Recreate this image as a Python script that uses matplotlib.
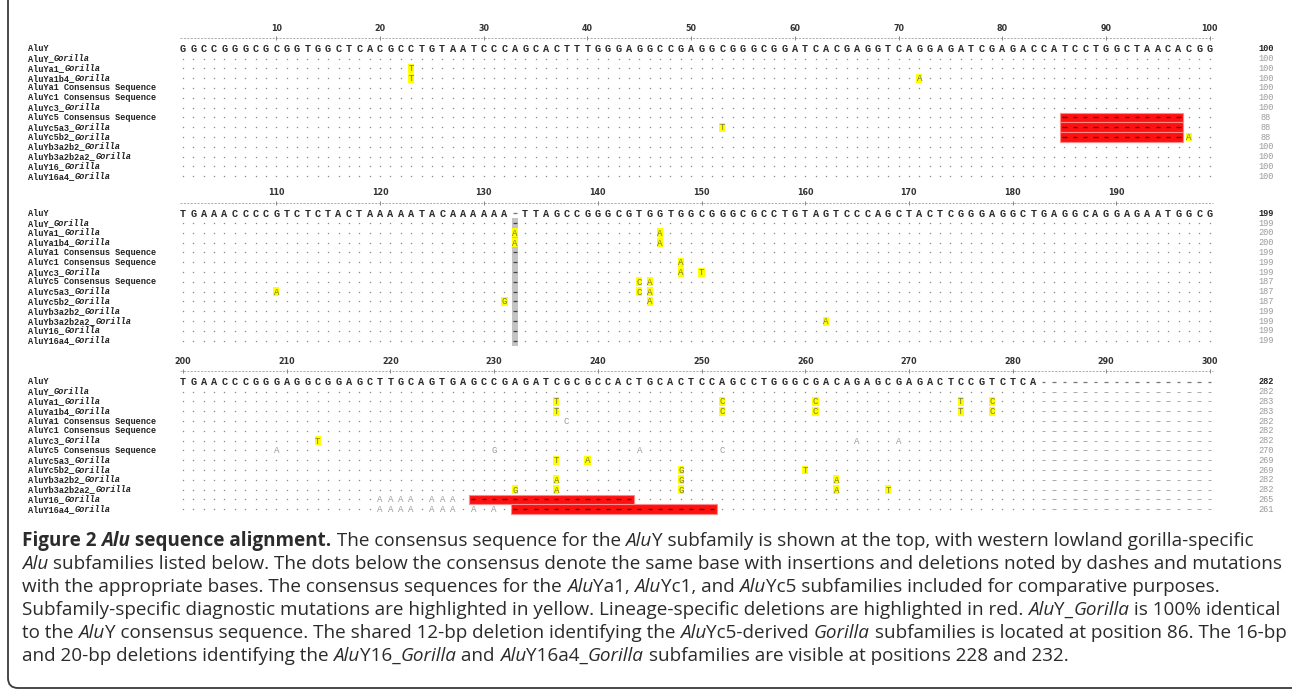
import matplotlib
matplotlib.use("Agg")
import matplotlib.pyplot as plt
from matplotlib.patches import Rectangle, PathPatch
from matplotlib.path import Path
from matplotlib.transforms import IdentityTransform, offset_copy
from matplotlib.font_manager import FontProperties

W, H, DPI = 1292, 693, 100

# ---------------- data ----------------
row_names = ["AluY", "AluY_Gorilla", "AluYa1_Gorilla", "AluYa1b4_Gorilla",
             "AluYa1 Consensus Sequence", "AluYc1 Consensus Sequence", "AluYc3_Gorilla",
             "AluYc5 Consensus Sequence", "AluYc5a3_Gorilla", "AluYc5b2_Gorilla",
             "AluYb3a2b2_Gorilla", "AluYb3a2b2a2_Gorilla", "AluY16_Gorilla", "AluY16a4_Gorilla"]

consensus_1 = "".join(["GGCCGGGCGC", "GGTGGCTCAC", "GCCTGTAATC", "CCAGCACTTT", "GGGAGGCCGA",
                        "GGCGGGCGGA", "TCACGAGGTC", "AGGAGATCGA", "GACCATCCTG", "GCTAACACGG"])
consensus_2 = "".join(["TGAAACCCCG", "TCTCTACTAA", "AAATACAAAA", "AA-TTAGCCG", "GGCGTGGTGG",
                        "CGGGCGCCTG", "TAGTCCCAGC", "TACTCGGGAG", "GCTGAGGCAG", "GAGAATGGCG"])
consensus_3 = "".join(["TGAACCCGGG", "AGGCGGAGCT", "TGCAGTGAGC", "CGAGATCGCG", "CCACTGCACT",
                        "CCAGCCTGGG", "CGACAGAGCG", "AGACTCCGTC", "TCA"]) + "-" * 17

# ruler labels and the column (0-based within block) they sit above
ticks_1 = [10, 20, 30, 40, 50, 60, 70, 80, 90, 100]
tickcol_1 = [9, 19, 29, 39, 49, 59, 69, 79, 89, 99]
ticks_2 = [110, 120, 130, 140, 150, 160, 170, 180, 190]
tickcol_2 = [9, 19, 29, 40, 50, 60, 70, 80, 90]
ticks_3 = [200, 210, 220, 230, 240, 250, 260, 270, 280, 290, 300]
tickcol_3 = [0, 10, 20, 30, 40, 50, 60, 70, 80, 89, 99]

# lengths printed at right of each row
lengths_1 = [100, 100, 100, 100, 100, 100, 100, 88, 88, 88, 100, 100, 100, 100]
lengths_2 = [199, 199, 200, 200, 199, 199, 199, 187, 187, 187, 199, 199, 199, 199]
lengths_3 = [282, 282, 283, 283, 282, 282, 282, 270, 269, 269, 282, 282, 265, 261]

# (row, column, base) -- yellow highlighted diagnostic mutations
yellow_1 = [(2, 22, "T"), (3, 22, "T"), (3, 71, "A"), (8, 52, "T"), (9, 97, "A")]
yellow_2 = [(2, 32, "A"), (3, 32, "A"), (2, 46, "A"), (3, 46, "A"), (5, 48, "A"), (6, 48, "A"),
            (6, 50, "T"), (7, 44, "C"), (7, 45, "A"), (8, 9, "A"), (8, 44, "C"), (8, 45, "A"),
            (9, 31, "G"), (9, 45, "A"), (11, 62, "A")]
yellow_3 = [(2, 36, "T"), (2, 52, "C"), (2, 61, "C"), (2, 75, "T"), (2, 78, "C"),
            (3, 36, "T"), (3, 52, "C"), (3, 61, "C"), (3, 75, "T"), (3, 78, "C"),
            (6, 13, "T"), (8, 36, "T"), (8, 39, "A"), (9, 48, "G"), (9, 60, "T"),
            (10, 36, "A"), (10, 48, "G"), (10, 63, "A"),
            (11, 32, "G"), (11, 36, "A"), (11, 48, "G"), (11, 63, "A"), (11, 68, "T")]
# (row, column, base) -- other (grey, not highlighted) differences
grey_1 = []
grey_2 = []
grey_3 = [(4, 37, "C"), (6, 65, "A"), (6, 69, "A"), (7, 9, "A"), (7, 30, "G"), (7, 44, "A"),
          (7, 52, "C"),
          (12, 19, "A"), (12, 20, "A"), (12, 21, "A"), (12, 22, "A"), (12, 24, "A"),
          (12, 25, "A"), (12, 26, "A"),
          (13, 19, "A"), (13, 20, "A"), (13, 21, "A"), (13, 22, "A"), (13, 24, "A"),
          (13, 25, "A"), (13, 26, "A"), (13, 28, "A"), (13, 30, "A")]
# (row, first column, last column) -- lineage-specific deletions (red)
red_1 = [(7, 85, 96), (8, 85, 96), (9, 85, 96)]
red_2 = []
red_3 = [(12, 28, 43), (13, 32, 51)]
# insertion column shown in grey (block 2)
gap_col_2 = 32
gap_rows_2 = [1, 4, 5, 6, 7, 8, 9, 10, 11, 12, 13]

blocks = [
    dict(seq=consensus_1, ticks=ticks_1, tickcol=tickcol_1, lengths=lengths_1,
         yellow=yellow_1, grey=grey_1, red=red_1, gap=None, row0=48.8),
    dict(seq=consensus_2, ticks=ticks_2, tickcol=tickcol_2, lengths=lengths_2,
         yellow=yellow_2, grey=grey_2, red=red_2, gap=(gap_col_2, gap_rows_2), row0=213.3),
    dict(seq=consensus_3, ticks=ticks_3, tickcol=tickcol_3, lengths=lengths_3,
         yellow=yellow_3, grey=grey_3, red=red_3, gap=None, row0=381.8),
]

# ---------------- layout ----------------
COL0 = 183.0      # pixel x of first column
PITCH = 10.37     # pixel per column
RPITCH = 9.8      # pixel per row

fig = plt.figure(figsize=(W / DPI, H / DPI), dpi=DPI)
fig.patch.set_facecolor("white")

f_cons = FontProperties(family="Liberation Mono", weight="bold", size=7.4)
f_mut = FontProperties(family="Liberation Mono", size=6.6)
f_lab = FontProperties(family="Liberation Mono", weight="bold", size=6.2)
f_labi = FontProperties(family="Liberation Mono", weight="bold", style="italic", size=6.2)
f_num = FontProperties(family="Liberation Mono", size=6.2)
f_numb = FontProperties(family="Liberation Mono", weight="bold", size=6.2)
f_tick = FontProperties(family="DejaVu Sans", weight="bold", size=5.8)

for b in blocks:
    top = b["row0"] - 3 * RPITCH
    hgt = 17 * RPITCH
    ax = fig.add_axes([0, (H - top - hgt) / H, 1, hgt / H])
    ax.set_xlim(-COL0 / PITCH, (W - COL0) / PITCH)
    ax.set_ylim(14, -3)
    ax.axis("off")
    seq = b["seq"]
    n = len(seq)

    # ruler
    ax.plot([-0.3, n - 1 + 0.3], [-1.1, -1.1], color="#a0a0a0", lw=0.6,
            linestyle=(0, (2.5, 1.6)), solid_capstyle="butt")
    ax.plot(b["tickcol"], [-1.1] * len(b["tickcol"]), linestyle="none", marker="|",
            markersize=3.5, color="#888888", markeredgewidth=0.7)
    for v, c in zip(b["ticks"], b["tickcol"]):
        ax.text(c, -2.1, str(v), ha="center", va="center", fontproperties=f_tick, color="#333333")

    # row labels
    lab_x = (28 - COL0) / PITCH
    for r, name in enumerate(row_names):
        if "_Gorilla" in name:
            pre = name.split("_Gorilla")[0] + "_"
            ax.text(lab_x, r, pre, ha="left", va="center", fontproperties=f_lab, color="#222222")
            tr = offset_copy(ax.transData, fig=fig, x=len(pre) * 0.6 * 6.2, y=0, units="points")
            ax.text(lab_x, r, "Gorilla", ha="left", va="center", fontproperties=f_labi,
                    color="#222222", transform=tr)
        else:
            ax.text(lab_x, r, name, ha="left", va="center", fontproperties=f_lab, color="#222222")

    # lengths
    num_x = (1266 - COL0) / PITCH
    for r, v in enumerate(b["lengths"]):
        ax.text(num_x, r, str(v), ha="center", va="center",
                fontproperties=f_numb if r == 0 else f_num,
                color="#222222" if r == 0 else "#9a9a9a")

    # consensus row
    for c, ch in enumerate(seq):
        if ch == "-":
            ax.plot([c - 0.17, c + 0.17], [0, 0], color="#777777", lw=0.9,
                    solid_capstyle="butt")
        else:
            ax.text(c, 0.05, ch, ha="center", va="center", fontproperties=f_cons, color="#2a2a2a")

    occupied = set()
    # red deletions
    for (r, c0, c1) in b["red"]:
        ax.add_patch(Rectangle((c0 - 0.4, r - 0.5), c1 - c0 + 0.85, 1.0, facecolor="#ff1010",
                               edgecolor="#ff8a8a", lw=0.8, zorder=2))
        for c in range(c0, c1 + 1):
            ax.plot([c - 0.2, c + 0.2], [r, r], color="#3a0000", lw=0.9, zorder=3,
                    solid_capstyle="butt")
            occupied.add((r, c))

    # grey insertion column
    if b["gap"] is not None:
        gc, grows = b["gap"]
        ax.add_patch(Rectangle((gc - 0.3, 0.5), 0.6, 13.0, facecolor="#c4c4c4",
                               edgecolor="none", zorder=1))
        for r in grows:
            ax.plot([gc - 0.17, gc + 0.17], [r, r], color="#444444", lw=0.9, zorder=3,
                    solid_capstyle="butt")
            occupied.add((r, gc))

    # yellow mutations
    for (r, c, ch) in b["yellow"]:
        ax.add_patch(Rectangle((c - 0.3, r - 0.45), 0.6, 0.9, facecolor="#ffff00",
                               edgecolor="none", zorder=2))
        ax.text(c, r + 0.05, ch, ha="center", va="center", fontproperties=f_mut,
                color="#7a7a40", zorder=3)
        occupied.add((r, c))
    # grey mutations
    for (r, c, ch) in b["grey"]:
        ax.text(c, r + 0.05, ch, ha="center", va="center", fontproperties=f_mut,
                color="#9c9c9c", zorder=3)
        occupied.add((r, c))

    # dots and trailing dashes
    xs, ys = [], []
    for r in range(1, 14):
        for c in range(n):
            if (r, c) in occupied:
                continue
            if seq[c] == "-" and b["gap"] is None:
                ax.plot([c - 0.17, c + 0.17], [r, r], color="#ababab", lw=0.75,
                        solid_capstyle="butt")
            elif seq[c] == "-":
                continue
            else:
                xs.append(c)
                ys.append(r)
    ax.scatter(xs, ys, s=1.1, c="#8c8c8c", marker="o", linewidths=0)

# ---------------- frame ----------------
ov = fig.add_axes([0, 0, 1, 1])
ov.set_xlim(0, W)
ov.set_ylim(H, 0)
ov.axis("off")
verts = [(8, 0), (8, 678), (8, 688), (18, 688), (1292, 688)]
codes = [Path.MOVETO, Path.LINETO, Path.CURVE3, Path.CURVE3, Path.LINETO]
ov.add_patch(PathPatch(Path(verts, codes), facecolor="none", edgecolor="#3a3a3a", lw=1.3))

# ---------------- caption ----------------
cap_lines = [
    [("Figure 2 ", "b"), ("Alu", "bi"), (" sequence alignment.", "b"),
     (" The consensus sequence for the ", "r"), ("Alu", "i"),
     ("Y subfamily is shown at the top, with western lowland gorilla-specific", "r")],
    [("Alu", "i"), (" subfamilies listed below. The dots below the consensus denote the same base "
                    "with insertions and deletions noted by dashes and mutations", "r")],
    [("with the appropriate bases. The consensus sequences for the ", "r"), ("Alu", "i"),
     ("Ya1, ", "r"), ("Alu", "i"), ("Yc1, and ", "r"), ("Alu", "i"),
     ("Yc5 subfamilies included for comparative purposes.", "r")],
    [("Subfamily-specific diagnostic mutations are highlighted in yellow. Lineage-specific "
      "deletions are highlighted in red. ", "r"), ("Alu", "i"), ("Y_", "r"), ("Gorilla", "i"),
     (" is 100% identical", "r")],
    [("to the ", "r"), ("Alu", "i"),
     ("Y consensus sequence. The shared 12-bp deletion identifying the ", "r"), ("Alu", "i"),
     ("Yc5-derived ", "r"), ("Gorilla", "i"),
     (" subfamilies is located at position 86. The 16-bp", "r")],
    [("and 20-bp deletions identifying the ", "r"), ("Alu", "i"), ("Y16_", "r"), ("Gorilla", "i"),
     (" and ", "r"), ("Alu", "i"), ("Y16a4_", "r"), ("Gorilla", "i"),
     (" subfamilies are visible at positions 228 and 232.", "r")],
]

fig.canvas.draw()
rend = fig.canvas.get_renderer()


def fp_for(style, size):
    return FontProperties(family="Open Sans",
                          weight="bold" if "b" in style else "normal",
                          style="italic" if "i" in style else "normal", size=size)


def seg_w(s, fp):
    t1 = fig.text(0, 0, "|" + s + "|", fontproperties=fp, transform=IdentityTransform())
    t2 = fig.text(0, 0, "||", fontproperties=fp, transform=IdentityTransform())
    w = t1.get_window_extent(rend).width - t2.get_window_extent(rend).width
    t1.remove()
    t2.remove()
    return w


base = 12.0
w_ref = sum(seg_w(s, fp_for(st, base)) for s, st in cap_lines[1])
size = base * (1279 - 22) / w_ref

x0 = 22
for i, line in enumerate(cap_lines):
    y_base = 546.0 + 23.0 * i
    x = x0
    for s, st in line:
        fp = fp_for(st, size)
        fig.text(x, H - y_base, s, fontproperties=fp, transform=IdentityTransform(),
                 ha="left", va="baseline", color="#2b2b2b")
        x += seg_w(s, fp)

fig.savefig("out.png", dpi=DPI, facecolor="white")
